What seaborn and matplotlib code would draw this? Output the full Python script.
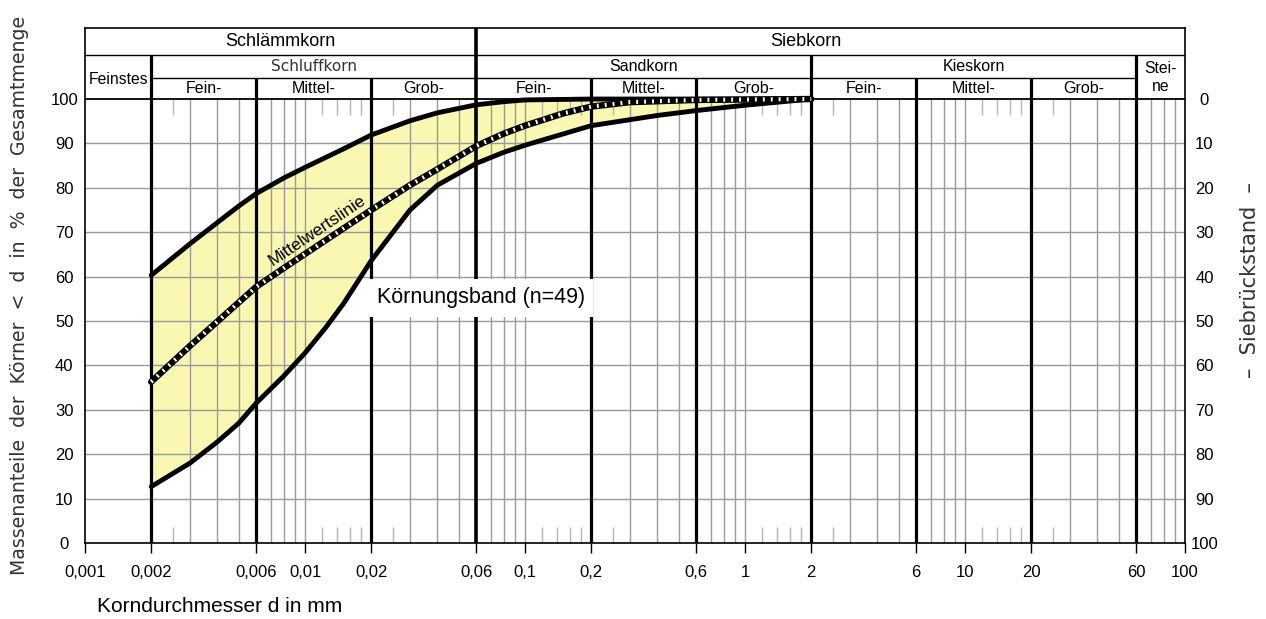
import numpy as np
import pandas as pd
import matplotlib
matplotlib.use("Agg")
import matplotlib.pyplot as plt
import seaborn as sns

# ---------------- data ----------------
upper_d = [0.002, 0.003, 0.004, 0.005, 0.006, 0.008, 0.01, 0.015, 0.02, 0.03, 0.04, 0.06, 0.08, 0.1, 0.2, 2.0]
upper_p = [60.3, 67.4, 72.2, 75.9, 78.7, 82.2, 84.6, 88.8, 91.9, 95.1, 96.9, 98.7, 99.4, 99.8, 100.0, 100.0]

lower_d = [0.002, 0.003, 0.004, 0.005, 0.006, 0.008, 0.01, 0.0125, 0.015, 0.02, 0.03, 0.04, 0.06, 0.08, 0.1, 0.2, 0.4, 0.6, 1.0, 2.0]
lower_p = [12.7, 18.0, 22.8, 27.0, 31.5, 37.6, 42.8, 48.7, 54.0, 63.6, 75.0, 80.6, 85.5, 88.0, 89.6, 94.0, 96.3, 97.4, 98.6, 100.0]

mean_d = [0.002, 0.003, 0.004, 0.005, 0.006, 0.008, 0.01, 0.015, 0.02, 0.03, 0.04, 0.06, 0.08, 0.1, 0.15, 0.2, 0.3, 0.6, 2.0]
mean_p = [36.3, 44.4, 49.9, 54.2, 57.7, 61.9, 65.1, 70.9, 75.0, 80.6, 84.2, 89.4, 92.2, 94.0, 96.8, 98.3, 99.3, 99.8, 100.0]

xtick_values = [0.001, 0.002, 0.006, 0.01, 0.02, 0.06, 0.1, 0.2, 0.6, 1, 2, 6, 10, 20, 60, 100]
xtick_labels = ["0,001", "0,002", "0,006", "0,01", "0,02", "0,06", "0,1", "0,2", "0,6", "1", "2", "6", "10", "20", "60", "100"]
ytick_values = [0, 10, 20, 30, 40, 50, 60, 70, 80, 90, 100]
left_labels = ["0", "10", "20", "30", "40", "50", "60", "70", "80", "90", "100"]
right_labels = ["100", "90", "80", "70", "60", "50", "40", "30", "20", "10", "0"]

# class boundaries (mm) and how far up into the header they reach
boundary_d = [0.002, 0.006, 0.02, 0.06, 0.2, 0.6, 2, 6, 20, 60]
boundary_top = ["row2", "row3", "row3", "top", "row3", "row3", "row2", "row3", "row3", "row2"]

header_row1 = [("Schlämmkorn", 0.001, 0.06), ("Siebkorn", 0.06, 60)]
header_row2 = [("Schluffkorn", 0.002, 0.06), ("Sandkorn", 0.06, 2), ("Kieskorn", 2, 60)]
header_row3 = [("Fein-", 0.002, 0.006), ("Mittel-", 0.006, 0.02), ("Grob-", 0.02, 0.06),
               ("Fein-", 0.06, 0.2), ("Mittel-", 0.2, 0.6), ("Grob-", 0.6, 2),
               ("Fein-", 2, 6), ("Mittel-", 6, 20), ("Grob-", 20, 60)]

# ---------------- style ----------------
sns.set_theme(style="white")
plt.rcParams["font.family"] = ["Liberation Sans", "DejaVu Sans"]
plt.rcParams["text.color"] = "black"
plt.rcParams["xtick.color"] = "black"
plt.rcParams["ytick.color"] = "black"
plt.rcParams["axes.labelcolor"] = "black"

W, H = 1266, 619
fig = plt.figure(figsize=(W / 100, H / 100), dpi=100)
ax = fig.add_axes([85 / W, 76 / H, 1100 / W, 515 / H])
ax.set_xscale("log")
ax.set_xlim(0.001, 100)
Y_TOP = 116.0
R3, R2 = 104.8, 110.0
ax.set_ylim(0, Y_TOP)

GRID = "#9a9a9a"
SHORT = "#b4b4b4"
FILL = "#f9f7b2"

# grid lines
full_pos, short_pos = [], []
for dec in [0.001, 0.01, 0.1, 1, 10]:
    for m in [3, 4, 5, 7, 8, 9, 10]:
        v = dec * m
        if v < 100 - 1e-9:
            full_pos.append(v)
    for m in ([2.5] if dec == 0.001 else [1.2, 1.4, 1.6, 1.8, 2.5]):
        short_pos.append(dec * m)
ax.vlines(full_pos, 0, 100, color=GRID, lw=1.0, zorder=1)
ax.vlines(short_pos, 0, 3.6, color=SHORT, lw=1.0, zorder=1)
ax.vlines(short_pos, 96.4, 100, color=SHORT, lw=1.0, zorder=1)
ax.hlines(ytick_values[1:-1], 0.001, 100, color=GRID, lw=1.0, zorder=1)

# band fill
band_x = upper_d + lower_d[::-1]
band_y = upper_p + lower_p[::-1]
ax.fill(band_x, band_y, color=FILL, lw=0, zorder=0.5)

# thick class boundaries
tops = {"row3": R3, "row2": R2, "top": Y_TOP}
for d, t in zip(boundary_d, boundary_top):
    ax.vlines(d, 0, tops[t], color="black", lw=2.6 if t == "top" else 2.3, zorder=3)

# header lines
ax.hlines(100, 0.001, 100, color="black", lw=1.3, zorder=3)
ax.hlines(R3, 0.002, 60, color="black", lw=1.0, zorder=3)
ax.hlines(R2, 0.001, 100, color="black", lw=1.0, zorder=3)

# curves
df_up = pd.DataFrame({"d": upper_d, "p": upper_p})
df_lo = pd.DataFrame({"d": lower_d, "p": lower_p})
df_me = pd.DataFrame({"d": mean_d, "p": mean_p})
kw = dict(sort=False, estimator=None, solid_joinstyle="round", solid_capstyle="round")
sns.lineplot(data=df_up, x="d", y="p", ax=ax, color="black", lw=3.5, zorder=4, **kw)
sns.lineplot(data=df_lo, x="d", y="p", ax=ax, color="black", lw=3.5, zorder=4, **kw)
sns.lineplot(data=df_me, x="d", y="p", ax=ax, color="black", lw=4.6, zorder=4, **kw)
ln = sns.lineplot(data=df_me, x="d", y="p", ax=ax, color="white", lw=3.0, zorder=5,
                  sort=False, estimator=None)
ln.lines[-1].set_dashes([0.45, 1.45])
ax.set_xlabel("")
ax.set_ylabel("")

# annotations
ax.text(0.0212, 55.2, "Körnungsband (n=49)", fontsize=15.5, ha="left", va="center", zorder=6,
        bbox=dict(boxstyle="square,pad=0.38", fc="white", ec="none"))
ax.text(0.0114, 70.3, "Mittelwertslinie", fontsize=12.5, rotation=34, ha="center", va="center",
        rotation_mode="anchor", zorder=6)

# header texts
def gmean(a, b):
    return np.sqrt(a * b)

for txt, a, b in header_row1:
    ax.text(gmean(a, b), (R2 + Y_TOP) / 2, txt, fontsize=13, ha="center", va="center")
for txt, a, b in header_row2:
    if txt == "Schluffkorn":
        ax.text(gmean(a, b), (R3 + R2) / 2, txt, fontsize=11, ha="center", va="center",
                family=["DejaVu Sans"], color="#333333")
    else:
        ax.text(gmean(a, b), (R3 + R2) / 2, txt, fontsize=11.5, ha="center", va="center")
for txt, a, b in header_row3:
    ax.text(gmean(a, b), (100 + R3) / 2, txt, fontsize=11.5, ha="center", va="center")
ax.text(gmean(0.001, 0.002), 104.4, "Feinstes", fontsize=11.3, ha="center", va="center")
ax.text(gmean(60, 100), 104.8, "Stei-\nne", fontsize=11.3, ha="center", va="center", linespacing=1.25)

# axes / ticks
for s in ax.spines.values():
    s.set_color("black")
    s.set_linewidth(1.2)
ax.set_xticks(xtick_values)
ax.set_xticklabels(xtick_labels, fontsize=12)
ax.minorticks_off()
ax.tick_params(axis="x", which="major", bottom=True, length=7, width=1.0, color="black", pad=9)
for v, tk in zip(xtick_values, ax.xaxis.get_major_ticks()):
    if v in (0.01, 0.1, 1, 10):
        tk.tick1line.set_color(GRID)
ax.set_yticks(ytick_values)
ax.set_yticklabels(left_labels, fontsize=12)
ax.tick_params(axis="y", length=0, pad=15)
for lab in ax.get_yticklabels():
    lab.set_horizontalalignment("center")

ax2 = ax.twinx()
ax2.set_ylim(0, Y_TOP)
ax2.set_yticks(ytick_values)
ax2.set_yticklabels(right_labels, fontsize=12)
ax2.tick_params(axis="y", length=0, pad=14)
for lab in ax2.get_yticklabels():
    lab.set_horizontalalignment("center")
for s in ax2.spines.values():
    s.set_visible(False)
ax2.grid(False)
ax.grid(False)

# axis titles
fig.text(20 / W, 1 - 295 / H, "Massenanteile  der  Körner  <  d  in  %  der  Gesamtmenge",
         rotation=90, ha="center", va="center", fontsize=13.6, family=["DejaVu Sans"], color="#333333")
fig.text(97 / W, 1 - 607 / H, "Korndurchmesser d in mm", ha="left", va="center", fontsize=15)
fig.text(1250 / W, 1 - 280 / H, "–  Siebrückstand  –", rotation=90, ha="center", va="center",
         fontsize=15, family=["DejaVu Sans"], color="#333333")

fig.savefig("out.png", dpi=100)
